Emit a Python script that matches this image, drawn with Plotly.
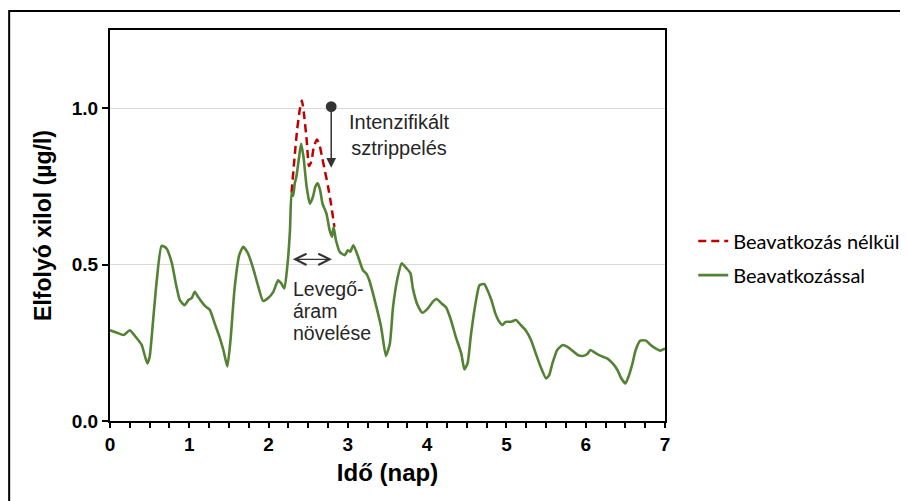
import plotly.graph_objects as go

# Green curve: "Beavatkozással"
x_with = [0.00, 0.08, 0.17, 0.25, 0.32, 0.40, 0.47, 0.50, 0.55, 0.59, 0.65, 0.71, 0.78, 0.83, 0.88,
          0.94, 0.99, 1.03, 1.07, 1.11, 1.20, 1.26, 1.32, 1.38, 1.43, 1.48, 1.52, 1.57, 1.63, 1.68,
          1.74, 1.80, 1.87, 1.93, 1.99, 2.06, 2.12, 2.16, 2.20, 2.24, 2.27, 2.29, 2.31, 2.33, 2.35,
          2.38, 2.41, 2.44, 2.48, 2.52, 2.56, 2.59, 2.62, 2.65, 2.68, 2.73, 2.77, 2.80, 2.82, 2.85,
          2.90, 2.96, 3.00, 3.03, 3.07, 3.13, 3.19, 3.23, 3.27, 3.36, 3.42, 3.48, 3.53, 3.57, 3.63,
          3.68, 3.74, 3.79, 3.82, 3.88, 3.94, 4.01, 4.07, 4.12, 4.18, 4.24, 4.30, 4.36, 4.43, 4.47,
          4.51, 4.55, 4.61, 4.66, 4.72, 4.76, 4.81, 4.86, 4.91, 4.95, 4.99, 5.06, 5.12, 5.18, 5.24,
          5.31, 5.37, 5.43, 5.50, 5.54, 5.58, 5.64, 5.71, 5.77, 5.83, 5.90, 5.96, 6.02, 6.06, 6.13,
          6.19, 6.27, 6.34, 6.40, 6.45, 6.50, 6.54, 6.59, 6.63, 6.69, 6.76, 6.82, 6.88, 6.94, 7.00]
y_with = [0.290, 0.283, 0.275, 0.290, 0.270, 0.243, 0.184, 0.205, 0.340, 0.450, 0.560, 0.553, 0.505, 0.440, 0.387,
          0.370, 0.387, 0.393, 0.413, 0.397, 0.367, 0.355, 0.312, 0.270, 0.227, 0.174, 0.259, 0.420, 0.530, 0.557,
          0.536, 0.493, 0.430, 0.384, 0.392, 0.413, 0.450, 0.440, 0.424, 0.504, 0.610, 0.730, 0.720, 0.760, 0.780,
          0.834, 0.887, 0.845, 0.749, 0.695, 0.717, 0.749, 0.760, 0.738, 0.695, 0.663, 0.610, 0.589, 0.620, 0.578,
          0.540, 0.530, 0.546, 0.541, 0.562, 0.525, 0.482, 0.472, 0.450, 0.365, 0.300, 0.208, 0.248, 0.365, 0.461,
          0.504, 0.488, 0.472, 0.424, 0.370, 0.346, 0.360, 0.381, 0.390, 0.376, 0.363, 0.323, 0.270, 0.216, 0.165,
          0.184, 0.270, 0.376, 0.434, 0.438, 0.419, 0.387, 0.344, 0.317, 0.307, 0.317, 0.317, 0.323, 0.307, 0.291,
          0.259, 0.216, 0.174, 0.136, 0.147, 0.184, 0.227, 0.243, 0.237, 0.225, 0.211, 0.208, 0.214, 0.227, 0.216,
          0.208, 0.200, 0.184, 0.163, 0.136, 0.120, 0.142, 0.184, 0.227, 0.257, 0.257, 0.243, 0.232, 0.225, 0.232]

# Red dashed curve: "Beavatkozás nélkül"
x_without = [2.29, 2.33, 2.36, 2.39, 2.42, 2.445, 2.48, 2.51, 2.54, 2.57, 2.61, 2.64, 2.67, 2.71, 2.75, 2.79, 2.83]
y_without = [0.73, 0.85, 0.93, 0.99, 1.025, 0.985, 0.90, 0.815, 0.83, 0.875, 0.90, 0.885, 0.85, 0.80, 0.75, 0.69, 0.62]

series_names = ["Beavatkozás nélkül", "Beavatkozással"]
x_title = "Idő (nap)"
y_title = "Elfolyó xilol (µg/l)"
ann_strip = "Intenzifikált<br>sztrippelés"
ann_air_lines = ["Levegő-", "áram", "növelése"]

GREEN = "#548235"
RED = "#C00000"
TXT = "#262626"

fig = go.Figure()
fig.add_trace(go.Scatter(x=x_without, y=y_without, mode="lines", name=series_names[0],
                         legendgroup="a",
                         line=dict(color=RED, width=2.5, dash="8px,5px", shape="spline", smoothing=0.5)))
fig.add_trace(go.Scatter(x=x_with, y=y_with, mode="lines", name=series_names[1],
                         legendgroup="b",
                         line=dict(color=GREEN, width=2.6, shape="spline", smoothing=0.5)))

# annotations
fig.add_annotation(x=2.79, y=0.81, ax=2.79, ay=1.01, axref="x", ayref="y", xref="x", yref="y",
                   text="", showarrow=True, arrowside="end+start", arrowhead=2, startarrowhead=6,
                   arrowsize=1.3, startarrowsize=1.8, arrowwidth=1.5, arrowcolor="#333333")
fig.add_annotation(x=3.65, y=0.915, xref="x", yref="y", text=ann_strip, showarrow=False,
                   align="center", font=dict(family="Liberation Sans", size=20, color=TXT))
fig.add_annotation(x=2.80, y=0.517, ax=2.287, ay=0.517, axref="x", ayref="y", xref="x", yref="y",
                   text="", showarrow=True, arrowside="end+start", arrowhead=5, startarrowhead=5,
                   arrowsize=1.7, startarrowsize=1.7, arrowwidth=1.3, arrowcolor="#333333")
for i, line in enumerate(ann_air_lines):
    fig.add_annotation(x=2.285, y=0.423 - i * 0.0715, xref="x", yref="y", text=line, showarrow=False,
                       xanchor="left", yanchor="middle", align="left",
                       font=dict(family="Liberation Sans", size=19.5, color=TXT))

# outer frame
fig.add_shape(type="rect", xref="paper", yref="paper", x0=-0.1817, x1=1.5, y0=-0.4, y1=1.0486,
              line=dict(color="black", width=2), layer="below")

fig.update_layout(
    width=908, height=501,
    margin=dict(l=102, r=250, t=22, b=88),
    plot_bgcolor="white", paper_bgcolor="white",
    showlegend=True,
    legend=dict(x=1.049, y=0.51, xanchor="left", yanchor="top", tracegroupgap=5,
                font=dict(family="Lato", size=20, color="black"), bgcolor="rgba(0,0,0,0)"),
    xaxis=dict(range=[0, 7], dtick=1, tick0=0, showgrid=False, zeroline=False,
               showline=True, linecolor="black", linewidth=2, mirror=True,
               ticks="outside", ticklen=5, tickwidth=1.5, tickcolor="black",
               minor=dict(dtick=0.25, ticks="outside", ticklen=5, tickwidth=1.5, tickcolor="black", showgrid=False),
               tickfont=dict(family="Liberation Sans", size=19, color="black", weight="bold"),
               title=dict(text=x_title, standoff=10,
                          font=dict(family="Liberation Sans", size=24, color="black", weight="bold"))),
    yaxis=dict(range=[0, 1.25], tickvals=[0, 0.5, 1.0], tickformat=".1f",
               showgrid=True, gridcolor="#d9d9d9", gridwidth=1, zeroline=False,
               showline=True, linecolor="black", linewidth=2, mirror=True,
               ticks="outside", ticklen=6, tickwidth=1.5, tickcolor="black",
               tickfont=dict(family="Liberation Sans", size=19, color="black", weight="bold"),
               title=dict(text=y_title, standoff=14,
                          font=dict(family="Liberation Sans", size=23, color="black", weight="bold"))),
)

fig.write_html("out.html")
